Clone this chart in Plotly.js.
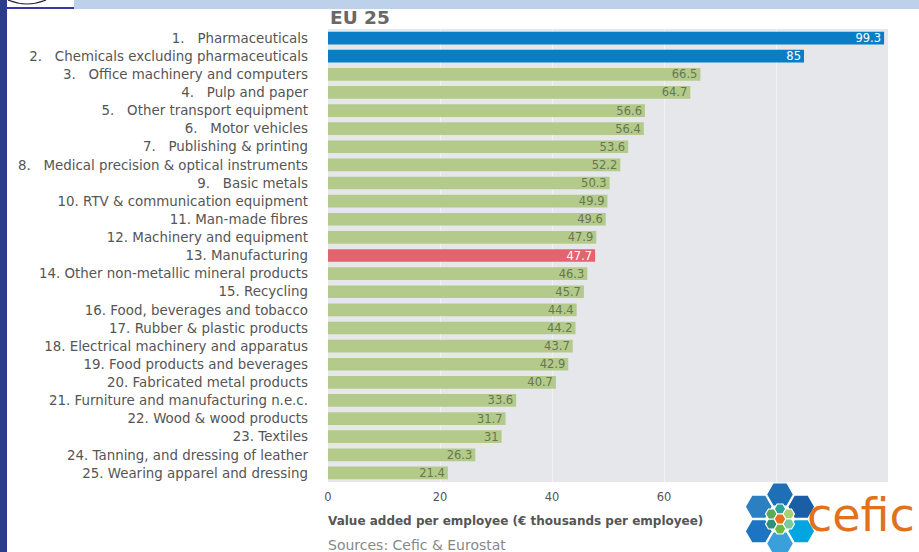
<!DOCTYPE html>
<html>
<head>
<meta charset="utf-8">
<script src="https://cdn.plot.ly/plotly-3.0.1.min.js"></script>
<style>html,body{margin:0;padding:0;background:#fff;}#chart{width:919px;height:552px;}</style>
</head>
<body>
<div id="chart"></div>
<script>
const ranks = [1,2,3,4,5,6,7,8,9,10,11,12,13,14,15,16,17,18,19,20,21,22,23,24,25];
const sectors = [
  "Pharmaceuticals",
  "Chemicals excluding pharmaceuticals",
  "Office machinery and computers",
  "Pulp and paper",
  "Other transport equipment",
  "Motor vehicles",
  "Publishing & printing",
  "Medical precision & optical instruments",
  "Basic metals",
  "RTV & communication equipment",
  "Man-made fibres",
  "Machinery and equipment",
  "Manufacturing",
  "Other non-metallic mineral products",
  "Recycling",
  "Food, beverages and tobacco",
  "Rubber & plastic products",
  "Electrical machinery and apparatus",
  "Food products and beverages",
  "Fabricated metal products",
  "Furniture and manufacturing n.e.c.",
  "Wood & wood products",
  "Textiles",
  "Tanning, and dressing of leather",
  "Wearing apparel and dressing"
];
const values = [99.3,85,66.5,64.7,56.6,56.4,53.6,52.2,50.3,49.9,49.6,47.9,47.7,46.3,45.7,44.4,44.2,43.7,42.9,40.7,33.6,31.7,31,26.3,21.4];
const chemicalSectors = ["Pharmaceuticals","Chemicals excluding pharmaceuticals"];
const totalSector = "Manufacturing";
const xTickVals = [0,20,40,60,80];
const xTickText = ["0","20","40","60",""];
const chartTitle = "EU 25";
const axisTitle = "Value added per employee (\u20ac thousands per employee)";
const sourceText = "Sources: Cefic & Eurostat";
const logoText = "cefic";

const FONT = "DejaVu Sans, sans-serif";
const NB = "\u00a0";
const labels = ranks.map((r,i) => r + "." + (r < 10 ? NB+NB+NB : NB) + sectors[i]);
const barColors = sectors.map(s => chemicalSectors.includes(s) ? "#0b7dc6" : (s === totalSector ? "#e2646f" : "#b4ca8b"));
const textColors = sectors.map(s => (chemicalSectors.includes(s) || s === totalSector) ? "#ffffff" : "#67774e");

const W = 919, H = 552;
const M = {l:328, r:31, t:29, b:70};
const PW = W - M.l - M.r, PH = H - M.t - M.b;
const px = x => (x - M.l) / PW;
const py = y => 1 - (y - M.t) / PH;

function rectPx(x0,y0,x1,y1,color){
  return {type:'rect', xref:'paper', yref:'paper', x0:px(x0), x1:px(x1), y0:py(y1), y1:py(y0),
    fillcolor:color, line:{width:0}, layer:'above'};
}
function hexPx(cx,cy,r,color){
  let d = '';
  for(let k=0;k<6;k++){
    const a = Math.PI/3*k;
    const x = cx + r*Math.cos(a), y = cy + r*Math.sin(a);
    d += (k===0?'M':'L') + px(x) + ',' + py(y) + ' ';
  }
  d += 'Z';
  return {type:'path', xref:'paper', yref:'paper', path:d, fillcolor:color, line:{color:'#ffffff', width:1.2}, layer:'above'};
}

const shapes = [];
// page decorations
shapes.push(rectPx(0,0,7,552,'#2b3c8c'));
shapes.push(rectPx(7,0,74,9,'#ffffff'));
shapes.push(rectPx(5,7,74,9,'#3a3aa4'));
shapes.push(rectPx(74,0,919,9,'#bdd2ea'));
shapes.push({type:'path', xref:'paper', yref:'paper',
  path:'M'+px(8)+','+py(0)+' Q'+px(27)+','+py(8)+' '+px(46)+','+py(0),
  line:{color:'#222', width:1.2}, layer:'above'});
// logo
const LC = {x:780, y:519};
const outerR = 13.5, outerD = 24.5;
const outerCols = ['#1f6fb6','#1a5ea6','#00a6df','#3a9fdb','#1c74c2','#2a80c0'];
for(let k=0;k<6;k++){
  const a = -Math.PI/2 + Math.PI/3*k;
  shapes.push(hexPx(LC.x + outerD*Math.cos(a), LC.y + outerD*Math.sin(a), outerR, outerCols[k]));
}
const innerR = 5.8, innerD = 10;
const innerCols = ['#2aa59a','#a8d070','#7ec8a0','#6cb840','#2e8f7a','#5aab5a'];
for(let k=0;k<6;k++){
  const a = -Math.PI/2 + Math.PI/3*k;
  shapes.push(hexPx(LC.x + innerD*Math.cos(a), LC.y + innerD*Math.sin(a), innerR, innerCols[k]));
}
shapes.push(hexPx(LC.x, LC.y, innerR, '#e8701a'));

const trace = {
  type:'bar', orientation:'h',
  x: values, y: labels,
  marker:{color: barColors, line:{width:0}},
  text: values.map(v => String(v)),
  textposition:'inside', insidetextanchor:'end', constraintext:'none', textangle:0,
  textfont:{family:FONT, size:11.5, color:textColors},
  hoverinfo:'x+y', cliponaxis:false
};

const layout = {
  width:W, height:H,
  margin:M,
  paper_bgcolor:'#ffffff', plot_bgcolor:'#e5e7ea',
  font:{family:FONT, color:'#555'},
  bargap:0.3,
  showlegend:false,
  xaxis:{range:[0,100], tickvals:xTickVals, ticktext:xTickText, showgrid:true, gridcolor:'#f1f2f4', gridwidth:1,
    zeroline:false, showline:false, ticks:'', ticklabelstandoff:6, tickfont:{size:11.5, color:'#555'}, fixedrange:true},
  yaxis:{type:'category', autorange:'reversed', showgrid:false, zeroline:false, ticks:'', ticklabelstandoff:19,
    tickfont:{size:13.4, color:'#555'}, fixedrange:true},
  shapes: shapes,
  annotations:[
    {text:chartTitle, xref:'paper', yref:'paper', x:px(328), y:py(17), xanchor:'left', yanchor:'middle', showarrow:false,
      font:{size:18.5, color:'#686868', weight:700}},
    {text:axisTitle, xref:'paper', yref:'paper', x:px(326), y:py(521), xanchor:'left', yanchor:'middle', showarrow:false,
      font:{size:12, color:'#555', weight:700}},
    {text:sourceText, xref:'paper', yref:'paper', x:px(326), y:py(545), xanchor:'left', yanchor:'middle', showarrow:false,
      font:{size:14, color:'#888'}},
    {text:logoText, xref:'paper', yref:'paper', x:px(805), y:py(515), xanchor:'left', yanchor:'middle', showarrow:false,
      font:{size:46, color:'#e2711d', family:FONT}}
  ]
};

Plotly.newPlot('chart', [trace], layout, {displayModeBar:false, staticPlot:true});
</script>
</body>
</html>
